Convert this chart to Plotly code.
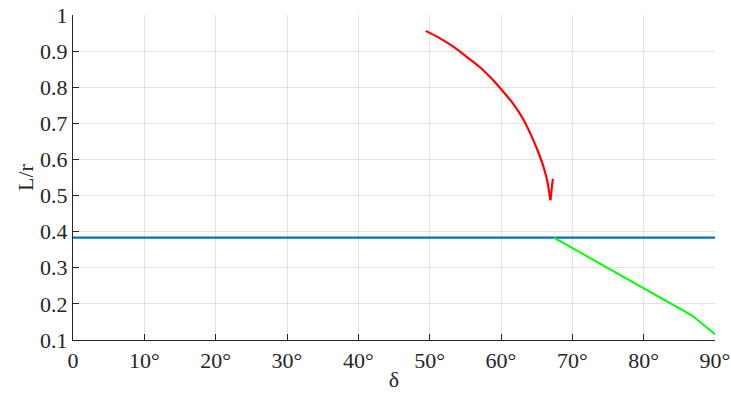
import plotly.graph_objects as go

# Red curve (delta, L/r)
red_x = [49.44, 51.40, 53.27, 55.14, 57.01, 58.88, 60.0, 61.64, 63.04, 64.2, 65.37, 66.07, 66.54, 66.92, 67.27]
red_y = [0.956, 0.936, 0.913, 0.885, 0.856, 0.820, 0.795, 0.756, 0.714, 0.668, 0.613, 0.572, 0.535, 0.487, 0.546]

# Blue horizontal line
blue_x = [0, 90]
blue_y = [0.3837, 0.3837]

# Green line
green_x = [67.4, 86.8, 90.0]
green_y = [0.3837, 0.1676, 0.116]

x_ticks = [0, 10, 20, 30, 40, 50, 60, 70, 80, 90]
x_labels = ["0", "10°", "20°", "30°", "40°", "50°", "60°", "70°", "80°", "90°"]
y_ticks = [0.1, 0.2, 0.3, 0.4, 0.5, 0.6, 0.7, 0.8, 0.9, 1.0]
y_labels = ["0.1", "0.2", "0.3", "0.4", "0.5", "0.6", "0.7", "0.8", "0.9", "1"]

fig = go.Figure()
fig.add_trace(go.Scatter(x=blue_x, y=blue_y, mode="lines", line=dict(color="#0072BD", width=2.2)))
fig.add_trace(go.Scatter(x=red_x[:-1], y=red_y[:-1], mode="lines",
                         line=dict(color="#FF0000", width=2.2, shape="spline", smoothing=0.8)))
fig.add_trace(go.Scatter(x=red_x[-2:], y=red_y[-2:], mode="lines", line=dict(color="#FF0000", width=2.2)))
fig.add_trace(go.Scatter(x=green_x, y=green_y, mode="lines", line=dict(color="#00FF00", width=2)))

font = dict(family="Liberation Serif", size=22, color="#262626")
axis_common = dict(
    showline=True, linecolor="#262626", linewidth=1.2,
    ticks="inside", ticklen=6, tickcolor="#262626", tickwidth=1.2,
    showgrid=True, gridcolor="#e3e3e3", gridwidth=1,
    zeroline=False, tickfont=font, automargin=False,
)

fig.update_layout(
    width=731, height=397,
    margin=dict(l=73, r=16, t=15, b=57),
    font=font,
    plot_bgcolor="white", paper_bgcolor="white",
    showlegend=False,
    xaxis=dict(range=[0, 90], tickvals=x_ticks, ticktext=x_labels,
               title=dict(text="δ", font=font, standoff=0), **axis_common),
    yaxis=dict(range=[0.1, 1.0], tickvals=y_ticks, ticktext=y_labels,
               title=dict(text="L/r", font=font, standoff=0), **axis_common),
)

fig.write_html("out.html")
